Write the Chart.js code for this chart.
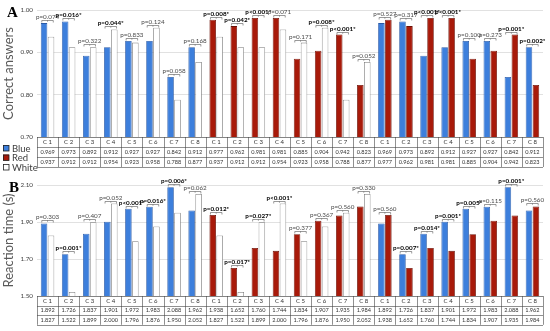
<!DOCTYPE html>
<html><head><meta charset="utf-8">
<script src="https://cdn.jsdelivr.net/npm/chart.js@4.4.0/dist/chart.umd.min.js"></script>
<style>
html,body{margin:0;padding:0;background:#fff;}
#wrap{position:relative;width:550px;height:331px;overflow:hidden;background:#fff;}
#ca{position:absolute;left:0;top:0;}
#cb{position:absolute;left:0;top:173px;}
</style></head><body>
<div id="wrap">
<canvas id="ca" width="550" height="173"></canvas>
<canvas id="cb" width="550" height="158"></canvas>
</div>
<script>
const categories = ['C 1','C 2','C 3','C 4','C 5','C 6','C 7','C 8'];
const legendLabels = ['Blue','Red','White'];
const accBlue  = [0.969,0.973,0.892,0.912,0.927,0.927,0.842,0.912];
const accRed   = [0.977,0.962,0.981,0.981,0.885,0.904,0.942,0.823];
const accWhite = [0.937,0.912,0.912,0.954,0.923,0.958,0.788,0.877];
const rtBlue  = [1.892,1.726,1.837,1.901,1.972,1.983,2.088,1.962];
const rtRed   = [1.938,1.652,1.760,1.744,1.834,1.907,1.935,1.984];
const rtWhite = [1.827,1.522,1.899,2.000,1.796,1.876,1.950,2.052];
const accP = ['p=0.074','p=0.016*','p=0.322','p=0.044*','p=0.833','p=0.124','p=0.058','p=0.168',
              'p=0.008*','p=0.042*','p<0.001*','p=0.071','p=0.171','p=0.008*','p<0.001*','p=0.052',
              'p=0.527','p=0.317','p<0.001*','p<0.001*','p=0.100','p=0.273','p=0.001*','p=0.002*'];
const rtP  = ['p=0.303','p=0.001*','p=0.407','p=0.052','p<0.001*','p=0.016*','p=0.006*','p=0.062',
              'p=0.012*','p=0.017*','p=0.027*','p<0.001*','p=0.377','p=0.367','p=0.560','p=0.330',
              'p=0.560','p=0.007*','p=0.014*','p=0.001*','p=0.005*','p=0.115','p=0.001*','p=0.560'];
const accTicks = ['0.70','0.80','0.90','1.00'];
const rtTicks  = ['1.50','1.70','1.90','2.10'];

const COL = {
  Blue:  {fill:'#3d7fdc', border:'#2a5aa6'},
  Red:   {fill:'#a81a0a', border:'#6a1006'},
  White: {fill:'#ffffff', border:'#7f7f7f'}
};
const firstColors  = [...Array(8).fill('Blue'), ...Array(8).fill('Red'), ...Array(8).fill('Blue')];
const secondColors = [...Array(8).fill('White'), ...Array(8).fill('White'), ...Array(8).fill('Red')];
const labels24 = [...categories, ...categories, ...categories];
const FONT = 'Lato';

function panelPlugin(opt) {
  return {
    id: 'panel' + opt.letter,
    afterDraw(chart) {
      const ctx = chart.ctx, area = chart.chartArea;
      const n = labels24.length, colW = (area.right - area.left) / n;
      const top = area.bottom, rh = opt.rowH;
      const m0 = chart.getDatasetMeta(0), m1 = chart.getDatasetMeta(1);
      const d0 = chart.data.datasets[0].data, d1 = chart.data.datasets[1].data;
      ctx.save();
      // table
      ctx.strokeStyle = '#444'; ctx.lineWidth = 0.6;
      ctx.beginPath();
      for (let r = 0; r <= 3; r++) {
        const yy = Math.round(top + r * rh) + 0.5;
        ctx.moveTo(area.left, yy); ctx.lineTo(area.right, yy);
      }
      for (let i = 0; i <= n; i++) {
        const xx = Math.round(area.left + i * colW) + 0.5;
        ctx.moveTo(xx, top); ctx.lineTo(xx, top + 3 * rh);
      }
      ctx.stroke();
      ctx.fillStyle = '#333'; ctx.textAlign = 'center'; ctx.textBaseline = 'middle';
      for (let i = 0; i < n; i++) {
        const cx = area.left + (i + 0.5) * colW;
        ctx.font = '6px ' + FONT;
        ctx.fillText(labels24[i], cx, top + rh * 0.5);
        ctx.font = '5.6px ' + FONT;
        ctx.fillText(d0[i].toFixed(3), cx, top + rh * 1.5);
        ctx.fillText(d1[i].toFixed(3), cx, top + rh * 2.5);
      }
      // p-values with brackets
      for (let i = 0; i < n; i++) {
        const b0 = m0.data[i], b1 = m1.data[i];
        const ty = Math.min(b0.y, b1.y);
        const by = Math.round(ty - 3) + 0.5;
        const x0 = b0.x - b0.width / 2 + 1, x1 = b1.x + b1.width / 2 - 1;
        ctx.strokeStyle = '#555'; ctx.lineWidth = 0.6;
        ctx.beginPath();
        ctx.moveTo(x0, by + 2); ctx.lineTo(x0, by); ctx.lineTo(x1, by); ctx.lineTo(x1, by + 2);
        ctx.moveTo((x0 + x1) / 2, by); ctx.lineTo((x0 + x1) / 2, by + 1.2);
        ctx.stroke();
        const txt = opt.p[i], sig = txt.indexOf('*') >= 0;
        ctx.font = (sig ? 'bold ' : '') + '6.3px ' + FONT;
        ctx.fillStyle = sig ? '#000' : '#4a4a4a';
        ctx.textBaseline = 'alphabetic';
        ctx.fillText(txt, (b0.x + b1.x) / 2, by - 1.5);
      }
      // panel letter
      ctx.fillStyle = '#000'; ctx.textAlign = 'left'; ctx.textBaseline = 'alphabetic';
      ctx.font = 'bold 15px "Liberation Serif"';
      ctx.fillText(opt.letter, opt.lx, opt.ly);
      // legend
      if (opt.legend) {
        ctx.font = '9.5px ' + FONT;
        ctx.textBaseline = 'middle';
        legendLabels.forEach((lab, k) => {
          const yy = opt.legend.y + k * opt.legend.dy;
          ctx.fillStyle = COL[lab].fill; ctx.strokeStyle = '#222'; ctx.lineWidth = 0.8;
          ctx.fillRect(opt.legend.x, yy - 3, 6, 6);
          ctx.strokeRect(opt.legend.x + 0.5, yy - 2.5, 5.5, 5.5);
          ctx.fillStyle = '#404040';
          ctx.fillText(lab, opt.legend.x + 9, yy + 0.5);
        });
      }
      ctx.restore();
    }
  };
}

function makeChart(id, first, second, ymin, ymax, ticks, title, pad, plug) {
  return new Chart(document.getElementById(id), {
    type: 'bar',
    data: {
      labels: labels24,
      datasets: [
        {data: first, backgroundColor: firstColors.map(c => COL[c].fill), borderColor: firstColors.map(c => COL[c].border), borderWidth: 0.8, categoryPercentage: 0.66, barPercentage: 0.94},
        {data: second, backgroundColor: secondColors.map(c => COL[c].fill), borderColor: secondColors.map(c => COL[c].border), borderWidth: 0.8, categoryPercentage: 0.66, barPercentage: 0.94}
      ]
    },
    options: {
      responsive: false, animation: false, devicePixelRatio: 1,
      layout: {padding: pad},
      plugins: {legend: {display: false}, tooltip: {enabled: false}},
      scales: {
        x: {display: false, offset: true},
        y: {
          min: ymin, max: ymax,
          afterFit(s) { s.width = 37; },
          afterBuildTicks(s) { s.ticks = ticks.map(t => ({value: parseFloat(t)})); },
          ticks: {callback: (v, i) => ticks[i], font: {family: FONT, size: 6.3}, color: '#404040', padding: 4},
          grid: {color: '#d9d9d9', lineWidth: 0.8, drawTicks: false},
          border: {display: false},
          title: {display: true, text: title, font: {family: FONT, size: 13}, color: '#595959', padding: {top: 1, bottom: 0}}
        }
      }
    },
    plugins: [plug]
  });
}

makeChart('ca', [...accBlue, ...accRed, ...accBlue], [...accWhite, ...accWhite, ...accRed],
  0.7, 1.0, accTicks, 'Correct answers', {left: 0, right: 7, top: 10, bottom: 36},
  panelPlugin({letter: 'A', lx: 7, ly: 17, rowH: 10, p: accP, legend: {x: 3, y: 148, dy: 9.5}}));

makeChart('cb', [...rtBlue, ...rtRed, ...rtBlue], [...rtWhite, ...rtWhite, ...rtRed],
  1.5, 2.1, rtTicks, 'Reaction time (s)', {left: 0, right: 7, top: 12, bottom: 35},
  panelPlugin({letter: 'B', lx: 9, ly: 19, rowH: 9.6, p: rtP}));
</script>
</body></html>
